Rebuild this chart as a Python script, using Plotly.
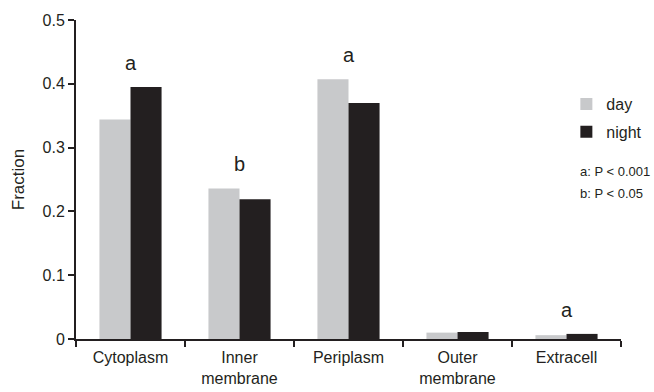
import plotly.graph_objects as go

# Subcellular localisation fractions, day vs night
categories = ["Cytoplasm", "Inner<br>membrane", "Periplasm", "Outer<br>membrane", "Extracell"]
day = [0.344, 0.236, 0.407, 0.010, 0.006]
night = [0.395, 0.219, 0.370, 0.011, 0.008]
sig_letters = ["a", "b", "a", "", "a"]
p_notes = ["a: P < 0.001", "b: P < 0.05"]
y_ticks = [0, 0.1, 0.2, 0.3, 0.4, 0.5]
y_tick_text = ["0", "0.1", "0.2", "0.3", "0.4", "0.5"]

FONT = "Liberation Sans, Arial, sans-serif"
TXT = "#231f20"

fig = go.Figure()
fig.add_trace(go.Bar(x=categories, y=day, name="day", marker_color="#c8c9cb",
                     marker_line_width=0, legendgroup="day"))
fig.add_trace(go.Bar(x=categories, y=night, name="night", marker_color="#231f20",
                     marker_line_width=0, legendgroup="night"))

# significance letters above each pair of bars
for cat, d, n, lab in zip(categories, day, night, sig_letters):
    if lab:
        fig.add_annotation(x=cat, y=max(d, n) + 0.038, text=lab, showarrow=False,
                           xref="x", yref="y", yanchor="middle",
                           font=dict(family=FONT, size=20, color=TXT))

# p-value key under the legend
for i, txt in enumerate(p_notes):
    fig.add_annotation(x=0.922, xref="paper", xanchor="left",
                       y=0.526 - i * 0.069, yref="paper", yanchor="middle",
                       text=txt, showarrow=False,
                       font=dict(family=FONT, size=13, color=TXT))

fig.update_layout(
    width=654, height=392,
    margin=dict(l=76, r=33, t=20, b=52.5, pad=0, autoexpand=False),
    paper_bgcolor="white", plot_bgcolor="white",
    barmode="group", bargap=0.43, bargroupgap=0,
    font=dict(family=FONT, size=16, color=TXT),
    showlegend=True,
    legend=dict(xref="container", yref="container", x=0.866, xanchor="left",
                y=0.778, yanchor="top",
                bgcolor="rgba(0,0,0,0)", font=dict(size=16, color=TXT),
                tracegroupgap=4, itemwidth=30),
)
fig.update_xaxes(
    showline=True, linecolor=TXT, linewidth=2, automargin=False,
    ticks="outside", tickson="boundaries", ticklen=6, tickwidth=2, tickcolor=TXT,
    tickfont=dict(size=16, color=TXT), ticklabelstandoff=3,
    showgrid=False, zeroline=False,
)
fig.update_yaxes(
    range=[0, 0.5], showline=True, linecolor=TXT, linewidth=2, automargin=False,
    ticks="outside", ticklen=6, tickwidth=2, tickcolor=TXT,
    tickvals=y_ticks, ticktext=y_tick_text, tickfont=dict(size=16, color=TXT),
    showgrid=False, zeroline=False,
    title=dict(text="Fraction", font=dict(size=17, color=TXT), standoff=14),
)

fig.write_html("out.html")
